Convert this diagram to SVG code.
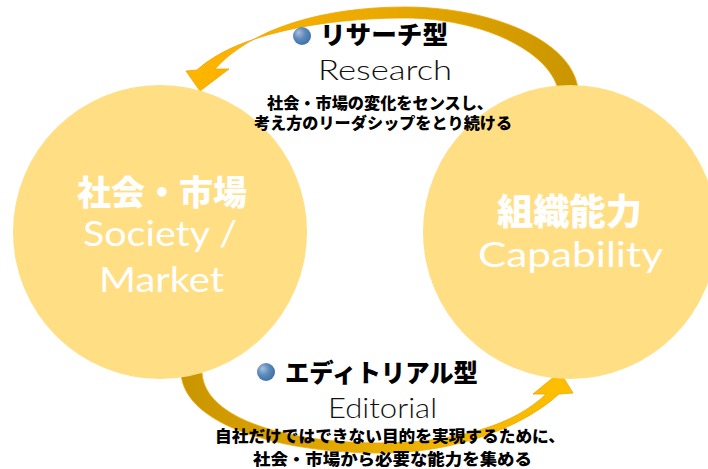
<svg xmlns="http://www.w3.org/2000/svg" width="708" height="469" viewBox="0 0 708 469">
<defs>
<linearGradient id="gTop" gradientUnits="userSpaceOnUse" x1="578" y1="0" x2="190" y2="0">
<stop offset="0" stop-color="#C99500"/>
<stop offset="0.5" stop-color="#E9A900"/>
<stop offset="1" stop-color="#FFB500"/>
</linearGradient>
<linearGradient id="gBot" gradientUnits="userSpaceOnUse" x1="181" y1="0" x2="575" y2="0">
<stop offset="0" stop-color="#C99500"/>
<stop offset="0.5" stop-color="#E9AE00"/>
<stop offset="1" stop-color="#FFC000"/>
</linearGradient>
<radialGradient id="gBall" cx="0.4" cy="0.4" r="0.65" fx="0.3" fy="0.3">
<stop offset="0" stop-color="#A9C2DD"/>
<stop offset="0.5" stop-color="#5E8BBE"/>
<stop offset="1" stop-color="#3E6EA5"/>
</radialGradient>
<style>
.circle{fill:#FFDE84;}
.arrow{stroke:#F0A500;stroke-width:0.8;}
.jpHead{font-family:"Noto Sans CJK JP","Noto Sans CJK SC",sans-serif;font-weight:900;fill:#000;}
.jpBody{font-family:"Noto Sans CJK JP","Noto Sans CJK SC",sans-serif;font-weight:900;font-size:16px;fill:#000;}
.en{font-family:Lato,"Liberation Sans",sans-serif;font-weight:300;font-size:27px;fill:#111;}
.nodeJp{font-family:"Noto Sans CJK JP","Noto Sans CJK SC",sans-serif;font-weight:900;fill:#fff;}
.nodeEn{font-family:Lato,"Liberation Sans",sans-serif;font-weight:400;font-size:34px;fill:#fff;text-anchor:middle;}
.ball{fill:url(#gBall);}
</style>
</defs>
<rect width="708" height="469" fill="#fff"/>
<g id="connectors">
<path class="arrow" fill="url(#gTop)" d="M 578 89 C 572 40 490 7 405 7 C 320 7 250 30 215 69 L 229 69 L 200 91 L 186 71 L 197 70 C 235 35 320 18 405 18 C 480 18 548 50 558 89 Z"/>
<path class="arrow" fill="url(#gBot)" d="M 181 373 C 184 425 280 453 380 453 C 460 453 525 425 559 394 L 573 393 L 560 372 L 533 394 L 546 394 C 515 425 455 443 380 443 C 290 443 205 420 202 373 Z"/>
</g>
<g id="node-society">
<circle class="circle" cx="160" cy="232" r="147"/>
<text class="nodeJp" x="77" y="205" font-size="34" textLength="170" lengthAdjust="spacingAndGlyphs">社会・市場</text>
<text class="nodeEn" x="160" y="246" textLength="154" lengthAdjust="spacingAndGlyphs">Society /</text>
<text class="nodeEn" x="161.5" y="292" textLength="125" lengthAdjust="spacingAndGlyphs">Market</text>
</g>
<g id="node-capability">
<circle class="circle" cx="570" cy="232" r="147"/>
<text class="nodeJp" x="497" y="225" font-size="36" textLength="145" lengthAdjust="spacingAndGlyphs">組織能力</text>
<text class="nodeEn" x="570.5" y="267" textLength="185" lengthAdjust="spacingAndGlyphs">Capability</text>
</g>
<g id="label-research">
<circle class="ball" cx="302" cy="36" r="9"/>
<text class="jpHead" x="320" y="44" font-size="25" textLength="128" lengthAdjust="spacingAndGlyphs">リサーチ型</text>
<text class="en" x="318" y="80" textLength="134" lengthAdjust="spacingAndGlyphs">Research</text>
<text class="jpBody" x="267" y="109" textLength="226" lengthAdjust="spacingAndGlyphs">社会・市場の変化をセンスし、</text>
<text class="jpBody" x="254" y="129" textLength="258" lengthAdjust="spacingAndGlyphs">考え方のリーダシップをとり続ける</text>
</g>
<g id="label-editorial">
<circle class="ball" cx="266" cy="372" r="9"/>
<text class="jpHead" x="285" y="382" font-size="25" textLength="193" lengthAdjust="spacingAndGlyphs">エディトリアル型</text>
<text class="en" x="328" y="418" textLength="109" lengthAdjust="spacingAndGlyphs">Editorial</text>
<text class="jpBody" x="215" y="442" textLength="350" lengthAdjust="spacingAndGlyphs">自社だけではできない目的を実現するために、</text>
<text class="jpBody" x="253" y="465" textLength="279" lengthAdjust="spacingAndGlyphs">社会・市場から必要な能力を集める</text>
</g>
</svg>
